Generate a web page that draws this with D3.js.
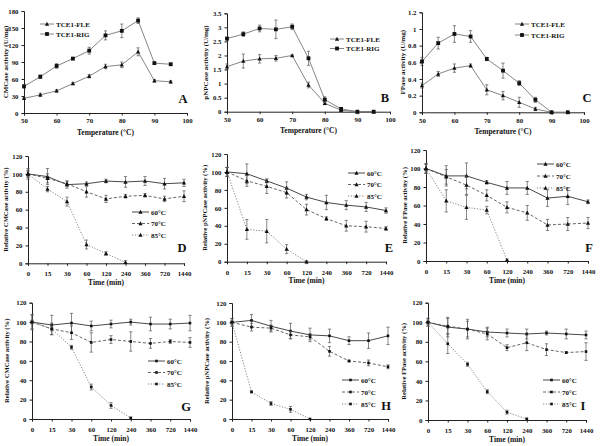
<!DOCTYPE html>
<html><head><meta charset="utf-8">
<script src="https://cdn.jsdelivr.net/npm/d3@7"></script>
<style>body{margin:0;background:#fff}svg{display:block}text{font-family:"Liberation Serif","Times New Roman",serif;font-weight:bold;fill:#111}</style>
</head><body><svg id="c" width="600" height="446"></svg>
<script>
// ---------- data ----------
const tempX = [50,55,60,65,70,75,80,85,90,95];
const tempTicks = [50,60,70,80,90,100];
const cmcFLE = [26,32,39,52,65,82,85,108,57,55];
const cmcFLEErr = [2,3,2,2,3,4,5,7,2,2];
const cmcRIG = [47,64,83,96,110,137,145,163,88,86];
const cmcRIGErr = [3,3,4,2,6,8,12,5,2,2];
const pnpFLE = [1.6,1.8,1.88,1.9,2.0,0.95,0.3,0.05,0,0];
const pnpFLEErr = [0.1,0.25,0.15,0.1,0.02,0.1,0.05,0.02,0,0];
const pnpRIG = [2.6,2.76,2.96,2.93,3.02,1.9,0.43,0.1,0,0];
const pnpRIGErr = [0.05,0.08,0.12,0.33,0.1,0.25,0.1,0.03,0,0];
const fpFLE = [0.32,0.46,0.53,0.56,0.27,0.2,0.12,0.04,0,0];
const fpFLEErr = [0.03,0.03,0.05,0.02,0.06,0.05,0.06,0.02,0,0];
const fpRIG = [0.61,0.83,0.94,0.91,0.64,0.5,0.35,0.15,0,0];
const fpRIGErr = [0.05,0.07,0.1,0.07,0.02,0.09,0.03,0.03,0,0];

const timeCats = ["0","15","30","60","120","240","360","720","1440"];
const relTicks = [0,20,40,60,80,100,120];

const d60 = [100,97,88,89,92,91,92,89,90],  d60Err = [6,9,4,2,2,6,5,6,4];
const d70 = [100,95,89,80,72,75,76,72,75],  d70Err = [4,5,3,6,4,2,2,3,6];
const d85 = [100,83,69,21,11,1],            d85Err = [3,3,5,5,2,2];
const e60 = [100,98,90,82,72,66,63,61,57],  e60Err = [5,11,2,7,3,8,5,5,3];
const e70 = [100,90,84,77,58,48,40,39,37],  e70Err = [5,6,8,6,6,2,6,6,2];
const e85 = [100,36,34,14,0],               e85Err = [5,11,13,5,1];
const f60 = [100,92,92,85,79,79,68,70,64],  f60Err = [5,11,14,2,7,7,9,9,2];
const f70 = [100,91,82,71,58,52,39,40,41],  f70Err = [5,8,10,6,6,8,6,7,6];
const f85 = [100,65,58,55,1],               f85Err = [5,12,13,4,1];
const g60 = [100,97,99,96,98,100,98,98,99], g60Err = [8,10,10,5,4,3,7,5,8];
const g70 = [100,93,89,79,82,80,78,80,79],  g70Err = [7,6,7,10,4,10,5,2,5];
const g85 = [100,93,74,33,14,1],            g85Err = [2,2,2,3,3,1];
const h60 = [100,102,96,91,87,86,81,81,86], h60Err = [4,6,6,8,7,7,4,8,9];
const h70 = [100,95,94,87,85,70,60,58,54],  h70Err = [4,4,3,4,3,5,1,3,2];
const h85 = [100,28,16,10,0],               h85Err = [2,1,2,3,0];
const i60 = [100,95,93,90,89,88,89,88,87],  i60Err = [4,10,8,5,4,5,2,5,4];
const i70 = [100,96,93,88,74,79,72,69,70],  i70Err = [4,8,10,6,3,8,6,1,9];
const i85 = [100,78,57,29,8,1],             i85Err = [2,10,2,2,2,1];

const seriesNamesT = ["TCE1-FLE","TCE1-RIG"];
const seriesNamesR = ["60°C","70°C","85°C"];

// ---------- drawing ----------
const svg = d3.select("#c");

const panels = [
 {L:"A", box:[24,11,187,113], type:"temp", yMax:180, yStep:30, yLab:"CMCase activity (U/mg)",
  s:[[cmcFLE,cmcFLEErr],[cmcRIG,cmcRIGErr]], leg:[40,24,10], letter:[183,103], ylx:5.5},
 {L:"B", box:[227,13.3,390,111.7], type:"temp", yMax:3.5, yStep:0.5, yLab:"pNPCase activity (U/mg)",
  s:[[pnpFLE,pnpFLEErr],[pnpRIG,pnpRIGErr]], leg:[330,39,9.5], letter:[385,102], ylx:206},
 {L:"C", box:[422,12.3,584,112.3], type:"temp", yMax:1.2, yStep:0.2, yLab:"FPase activity (U/mg)",
  s:[[fpFLE,fpFLEErr],[fpRIG,fpRIGErr]], leg:[515,24,11], letter:[587,102], ylx:403},
 {L:"D", box:[28,156,184,263.3], type:"time", marker:"tri", yLab:"Relative CMCase activity (%)",
  s:[[d60,d60Err],[d70,d70Err],[d85,d85Err]], leg:[132,212,11.5], letter:[182,252], ylx:5.5},
 {L:"E", box:[227,154,386,261.7], type:"time", marker:"tri", yLab:"Relative pNPCase activity (%)",
  s:[[e60,e60Err],[e70,e70Err],[e85,e85Err]], leg:[348,173,11.5], letter:[389,252], ylx:205},
 {L:"F", box:[426,150,588,261], type:"time", marker:"tri", yLab:"Relative FPase activity (%)",
  s:[[f60,f60Err],[f70,f70Err],[f85,f85Err]], leg:[537,164,12], letter:[589,252], ylx:405},
 {L:"G", box:[32,302.7,190,419], type:"time", marker:"sq", yLab:"Relative CMCase activity (%)",
  s:[[g60,g60Err],[g70,g70Err],[g85,g85Err]], leg:[148,361,11.5], letter:[186,411], ylx:7},
 {L:"H", box:[232,303,388,419], type:"time", marker:"sq", yLab:"Relative pNPCase activity (%)",
  s:[[h60,h60Err],[h70,h70Err],[h85,h85Err]], leg:[342,380,12], letter:[386,410], ylx:207},
 {L:"I", box:[428,302.7,586,420], type:"time", marker:"sq", yLab:"Relative FPase activity (%)",
  s:[[i60,i60Err],[i70,i70Err],[i85,i85Err]], leg:[543,380,12], letter:[583,410], ylx:404}
];

const dashes = [null, "3,2", "1.2,1.6"];
const lineCols = ["#333","#555","#777"];

function marker(g, kind, x, y, size) {
  if (kind === "sq") {
    g.append("rect").attr("x", x - size/2).attr("y", y - size/2).attr("width", size).attr("height", size).attr("fill", "#111");
  } else {
    const s = size;
    g.append("path").attr("d", `M${x},${y - s*0.6}L${x + s*0.55},${y + s*0.45}L${x - s*0.55},${y + s*0.45}Z`).attr("fill", "#111");
  }
}

panels.forEach(p => {
  const [x0, y0, x1, y1] = p.box;
  const g = svg.append("g");
  let x, xVals, y, yTicks;
  const isTemp = p.type === "temp";
  const px = d3.scalePoint().domain(timeCats).range([x0, x1]).padding(0);
  if (isTemp) {
    x = d3.scaleLinear().domain([50, 100]).range([x0, x1]);
    xVals = tempX;
    y = d3.scaleLinear().domain([0, p.yMax]).range([y1, y0]);
    yTicks = d3.range(0, p.yMax + p.yStep/2, p.yStep).map(v => +v.toFixed(2));
  } else {
    x = v => px(v);
    xVals = timeCats;
    y = d3.scaleLinear().domain([0, 120]).range([y1, y0]);
    yTicks = relTicks;
  }
  // axes
  const ya = g.append("g").attr("transform", `translate(${x0},0)`)
    .call(d3.axisLeft(y).tickValues(yTicks).tickSize(2.5).tickPadding(3).tickFormat(v => String(v)));
  const xa = g.append("g").attr("transform", `translate(0,${y1})`)
    .call(isTemp
      ? d3.axisBottom(x).tickValues(tempTicks).tickSize(2.5).tickPadding(3).tickFormat(d3.format("d"))
      : d3.axisBottom(px).tickSize(2.5).tickPadding(5.5));
  [ya, xa].forEach(a => {
    a.select(".domain").attr("stroke", "#222").attr("stroke-width", 1);
    a.selectAll(".tick line").attr("stroke", "#222");
    a.selectAll("text").style("font-family", '"Liberation Serif",serif').style("font-weight", "bold").style("font-size", "6.8px").attr("fill", "#111");
  });

  // series
  p.s.forEach((ser, si) => {
    const [vals, errs] = ser;
    const pts = vals.map((v, i) => [x(xVals[i]), y(v), y(v + errs[i]), y(Math.max(0, v - errs[i]))]);
    g.append("path").attr("d", d3.line()(pts.map(q => [q[0], q[1]])))
      .attr("fill", "none")
      .attr("stroke", isTemp ? "#777" : lineCols[si])
      .attr("stroke-width", 0.9)
      .attr("stroke-dasharray", isTemp ? null : dashes[si]);
    pts.forEach(q => {
      if (Math.abs(q[2] - q[3]) > 0.8) {
        g.append("line").attr("x1", q[0]).attr("x2", q[0]).attr("y1", q[2]).attr("y2", q[3]).attr("stroke", "#555").attr("stroke-width", 0.7);
        [q[2], q[3]].forEach(yy => g.append("line").attr("x1", q[0]-1.6).attr("x2", q[0]+1.6).attr("y1", yy).attr("y2", yy).attr("stroke", "#555").attr("stroke-width", 0.7));
      }
    });
    const kind = isTemp ? (si === 0 ? "tri" : "sq") : p.marker;
    const size = kind === "tri" ? 3.8 : (isTemp ? 3.8 : 2.6);
    pts.forEach(q => marker(g, kind, q[0], q[1], size));
  });

  // legend
  const names = isTemp ? seriesNamesT : seriesNamesR;
  const [lx, ly, lgap] = p.leg;
  names.forEach((n, i) => {
    const yy = ly + i * lgap;
    const len = isTemp ? 14 : 17;
    g.append("line").attr("x1", lx).attr("x2", lx + len).attr("y1", yy).attr("y2", yy)
      .attr("stroke", isTemp ? "#777" : lineCols[i]).attr("stroke-width", 0.9)
      .attr("stroke-dasharray", isTemp ? null : dashes[i]);
    const kind = isTemp ? (i === 0 ? "tri" : "sq") : p.marker;
    marker(g, kind, lx + len/2, yy, kind === "sq" && !isTemp ? 2.6 : 3.8);
    g.append("text").attr("x", lx + len + 2).attr("y", yy + 2.5).style("font-size", "7px").text(n);
  });

  // axis titles
  g.append("text").attr("transform", `translate(${p.ylx},${(y0 + y1)/2}) rotate(-90)`)
    .attr("text-anchor", "middle").attr("dy", "0.35em").style("font-size", isTemp ? "7px" : "6.6px").text(p.yLab);
  g.append("text").attr("x", (x0 + x1)/2).attr("y", y1 + 21.5).attr("text-anchor", "middle")
    .style("font-size", "7.5px").text(isTemp ? "Temperature (°C)" : "Time (min)");
  // panel letter
  g.append("text").attr("x", p.letter[0]).attr("y", p.letter[1]).attr("text-anchor", "middle")
    .style("font-size", "12.5px").text(p.L);
});
</script></body></html>
